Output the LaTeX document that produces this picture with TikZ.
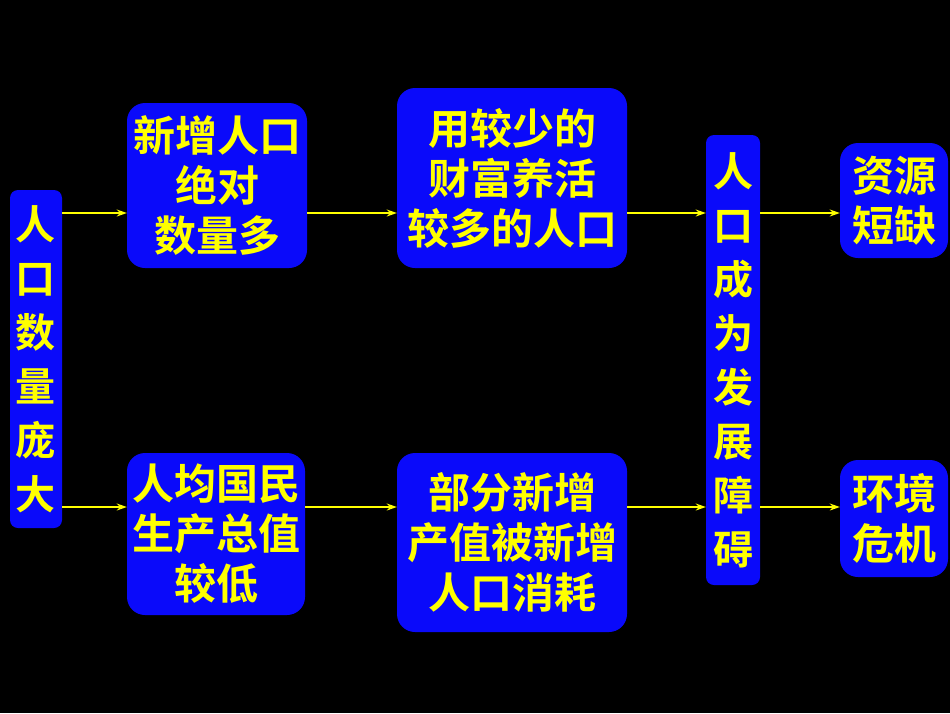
\documentclass[tikz,border=0pt]{standalone}
\usepackage{fontspec}
\newfontfamily\cjk{Noto Sans CJK SC}[BoldFont={Noto Sans CJK SC Bold}]
\usetikzlibrary{arrows.meta}
\definecolor{bx}{RGB}{10,10,250}
\definecolor{yl}{RGB}{255,255,0}
\tikzset{
 box/.style={fill=bx,rounded corners=18pt,text=yl,align=center,font=\cjk\bfseries\fontsize{42}{50}\selectfont,inner sep=0pt},
 vbox/.style={box,rounded corners=8pt,font=\cjk\bfseries\fontsize{40}{54}\selectfont},
 arr/.style={draw=yl,line width=1.4pt,-{Stealth[length=10pt,width=7pt]}}
}
\begin{document}
\begin{tikzpicture}[x=1pt,y=-1pt]
\fill[black] (0,0) rectangle (950,713);
\useasboundingbox (0,0) rectangle (950,713);
\newcommand{\bx}[7]{\node[#6,minimum width=#3-#2,minimum height=#5-#4] (#1) at ({(#2+#3)/2},{(#4+#5)/2}) {#7};}
\bx{L}{10}{62}{190}{528}{vbox}{人\\口\\数\\量\\庞\\大}
\bx{A}{127}{307}{103}{268}{box}{新增人口\\绝对\\数量多}
\bx{B}{397}{627}{88}{268}{box}{用较少的\\财富养活\\较多的人口}
\bx{C}{127}{305}{453}{615}{box}{人均国民\\生产总值\\较低}
\bx{D}{397}{627}{453}{632}{box}{部分新增\\产值被新增\\人口消耗}
\bx{R}{706}{760}{135}{585}{vbox}{人\\口\\成\\为\\发\\展\\障\\碍}
\bx{E}{840}{948}{143}{258}{box}{资源\\短缺}
\bx{F}{840}{948}{460}{577}{box}{环境\\危机}
\coordinate (ya) at (0,213);
\coordinate (yb) at (0,507);
\draw[arr] (L.east|-ya) -- (A.west|-ya);
\draw[arr] (A.east|-ya) -- (B.west|-ya);
\draw[arr] (B.east|-ya) -- (R.west|-ya);
\draw[arr] (R.east|-ya) -- (E.west|-ya);
\draw[arr] (L.east|-yb) -- (C.west|-yb);
\draw[arr] (C.east|-yb) -- (D.west|-yb);
\draw[arr] (D.east|-yb) -- (R.west|-yb);
\draw[arr] (R.east|-yb) -- (F.west|-yb);
\end{tikzpicture}
\end{document}
